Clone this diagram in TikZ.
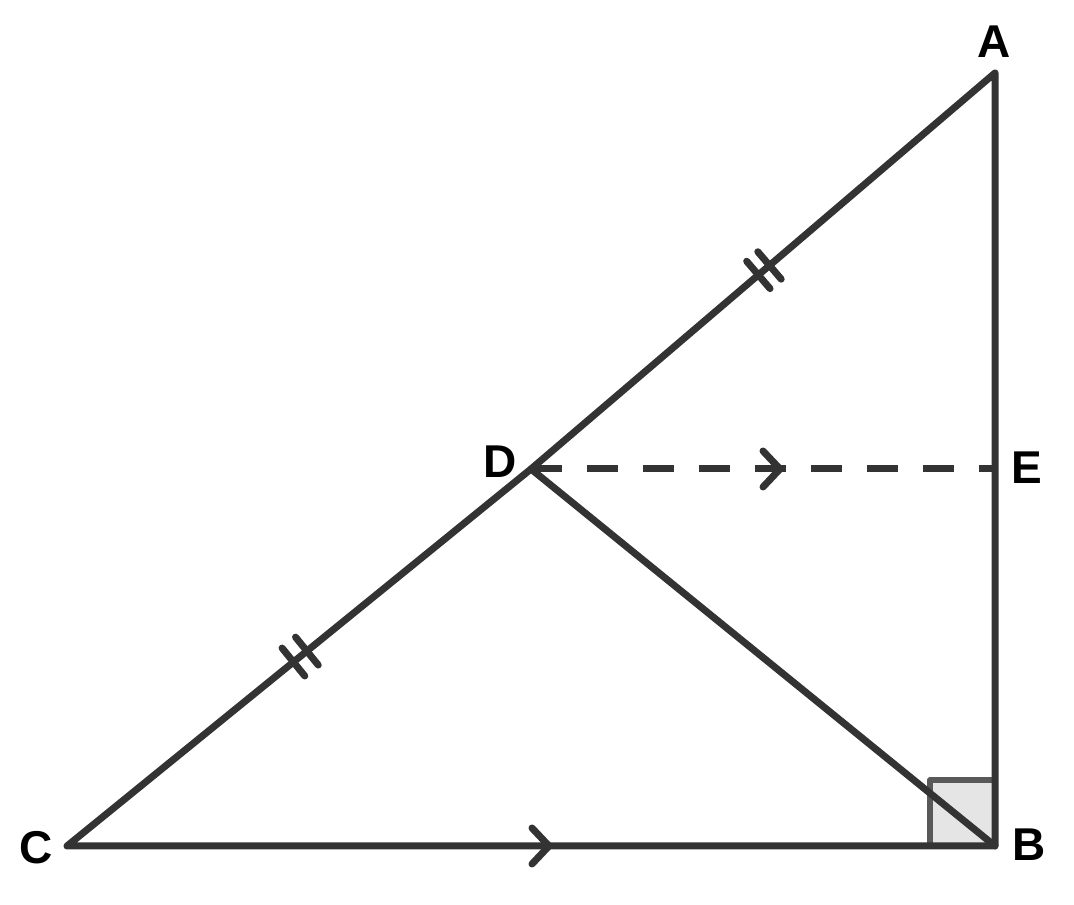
\documentclass[tikz,border=0pt]{standalone}
\usepackage{fontspec}
\setmainfont{Liberation Sans}
\usetikzlibrary{calc}
\definecolor{ink}{HTML}{333333}
\tikzset{
  seg/.style={draw=ink, line width=7pt, line cap=round, line join=round},
  dashseg/.style={draw=ink, line width=7pt, dash pattern=on 31pt off 25pt},
  lbl/.style={font=\fontsize{46}{46}\selectfont\bfseries, text=black, inner sep=0pt},
  rightsq/.style={fill=black!10, draw=black!65, line width=6pt, line join=round}
}
\begin{document}
\begin{tikzpicture}[x=1pt,y=1pt]
\useasboundingbox (0,0) rectangle (1074,905);
\coordinate (A) at (995,832);
\coordinate (B) at (995,59);
\coordinate (C) at (67,59);
\coordinate (D) at (531,436);
\coordinate (E) at (995,436);
% right angle
\draw[rightsq] (930,125) rectangle (B);
% sides
\draw[seg] (C) -- (B) -- (A) -- (D) -- (C);
\draw[seg] (D) -- (B);
\draw[dashseg] (D) -- (E);
% ticks
\path (C) -- (D) coordinate[pos=0.488] (t1) coordinate[pos=0.517] (t2);
\path (D) -- (A) coordinate[pos=0.490] (t3) coordinate[pos=0.514] (t4);
\foreach \t/\e in {t1/D, t2/D, t3/A, t4/A}{
  \draw[seg] ($(\t)!18pt!90:(\e)$) -- ($(\t)!18pt!-90:(\e)$);
}
% parallel arrows
\coordinate (p1) at (780,436);
\coordinate (p2) at (549,59);
\foreach \p in {p1,p2}{
  \draw[seg] ($(\p)+(-17,18)$) -- (\p) -- ($(\p)+(-17,-18)$);
}
% labels
\node[lbl] (lA) at (994,863) {A};
\node[lbl] (lB) at (1029,60) {B};
\node[lbl] (lC) at (36,57) {C};
\node[lbl] (lD) at (500,443) {D};
\node[lbl] (lE) at (1027,437) {E};
\end{tikzpicture}
\end{document}
